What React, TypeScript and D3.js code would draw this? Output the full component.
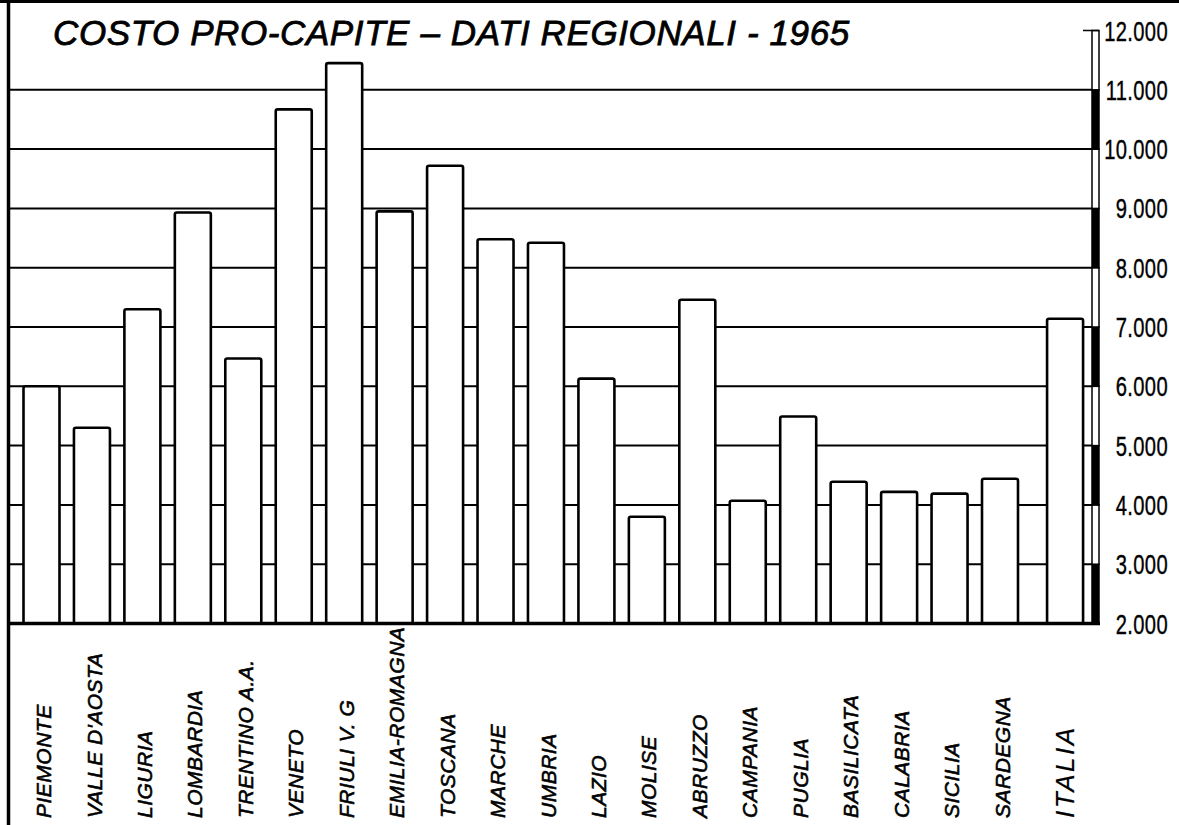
import React from "react";
import * as d3 from "d3";

const regions = [
  "PIEMONTE", "VALLE D'AOSTA", "LIGURIA", "LOMBARDIA", "TRENTINO A.A.",
  "VENETO", "FRIULI V. G", "EMILIA-ROMAGNA", "TOSCANA", "MARCHE",
  "UMBRIA", "LAZIO", "MOLISE", "ABRUZZO", "CAMPANIA",
  "PUGLIA", "BASILICATA", "CALABRIA", "SICILIA", "SARDEGNA",
];
const regionValues = [
  6000, 5300, 7300, 8930, 6470,
  10670, 11450, 8950, 9720, 8480,
  8420, 6130, 3800, 7460, 4070,
  5490, 4390, 4220, 4190, 4440,
];
const totalLabel = "ITALIA";
const totalValue = 7140;
const yTicks = [2000, 3000, 4000, 5000, 6000, 7000, 8000, 9000, 10000, 11000, 12000];
const title = "COSTO PRO-CAPITE – DATI REGIONALI - 1965";

const W = 1179;
const H = 825;
const FONT = "'Liberation Sans', Arial, sans-serif";

const itFormat = d3.formatLocale({
  decimal: ",",
  thousands: ".",
  grouping: [3],
  currency: ["", "€"],
}).format(",d");

export default function App() {
  const y = d3.scaleLinear().domain([2000, 12000]).range([623.5, 30.5]);
  const slot = d3.scaleLinear().domain([0, regions.length - 1]).range([41.5, 1000]);
  const barW = 36;
  const totalSlot = regions.length + 0.29;

  const bars = regions.map((r, i) => ({ label: r, value: regionValues[i], cx: slot(i), total: false }));
  bars.push({ label: totalLabel, value: totalValue, cx: slot(totalSlot), total: true });

  const gridLeft = 10;
  const axisX0 = 1092;
  const axisX1 = 1099;
  const labelBottom = 818;

  const segments = d3.pairs(yTicks);

  return (
    <svg
      width={W}
      height={H}
      style={{ position: "absolute", left: 0, top: 0, background: "#fff" }}
    >
      <rect x={0} y={0} width={W} height={H} fill="#fff" />
      {/* borders */}
      <line x1={0} x2={W} y1={1.5} y2={1.5} stroke="#000" strokeWidth={3} />
      <line x1={8.5} x2={8.5} y1={0} y2={H} stroke="#000" strokeWidth={3.5} />

      {/* gridlines */}
      {yTicks.slice(1, -1).map((t) => (
        <line key={t} x1={gridLeft} x2={axisX0} y1={y(t)} y2={y(t)} stroke="#000" strokeWidth={2} />
      ))}

      {/* bars */}
      {bars.map((b) => (
        <rect
          key={b.label}
          x={b.cx - barW / 2}
          y={y(b.value)}
          width={barW}
          height={y(2000) - y(b.value)}
          fill="#fff"
          stroke="#000"
          strokeWidth={2.6}
          rx={2}
        />
      ))}

      {/* baseline */}
      <line x1={gridLeft - 2} x2={axisX1 + 1} y1={y(2000)} y2={y(2000)} stroke="#000" strokeWidth={3.5} />

      {/* right scale bar */}
      {segments.map(([a, b], i) => (
        <rect
          key={a}
          x={axisX0}
          y={y(b)}
          width={axisX1 - axisX0}
          height={y(a) - y(b)}
          fill={i % 2 === 0 ? "#000" : "#fff"}
          stroke="#000"
          strokeWidth={1.5}
        />
      ))}
      <line x1={1083} x2={axisX1} y1={y(12000)} y2={y(12000)} stroke="#000" strokeWidth={1.5} />

      {/* tick labels */}
      {yTicks.map((t) => (
        <text
          key={t}
          transform={`translate(1168,${y(t)}) scale(0.72,1)`}
          dy="0.36em"
          textAnchor="end"
          fontFamily={FONT}
          fontSize={28}
          letterSpacing={0.5}
          fill="#000"
          stroke="#000"
          strokeWidth={0.4}
        >
          {itFormat(t)}
        </text>
      ))}

      {/* title */}
      <text
        x={53}
        y={45}
        fontFamily={FONT}
        fontStyle="italic"
        fontSize={35}
        letterSpacing={0.6}
        fill="#000"
        stroke="#000"
        strokeWidth={0.8}
      >
        {title}
      </text>

      {/* category labels */}
      {bars.map((b) => (
        <text
          key={"l" + b.label}
          transform={`translate(${b.cx + (b.total ? 0 : 2)},${labelBottom}) rotate(-90)`}
          dy="0.36em"
          textAnchor="start"
          fontFamily={FONT}
          fontStyle="italic"
          fontSize={b.total ? 26 : 21}
          letterSpacing={b.total ? 2.5 : 0.5}
          fill="#000"
          stroke="#000"
          strokeWidth={b.total ? 0.2 : 0.6}
        >
          {b.label}
        </text>
      ))}
    </svg>
  );
}
